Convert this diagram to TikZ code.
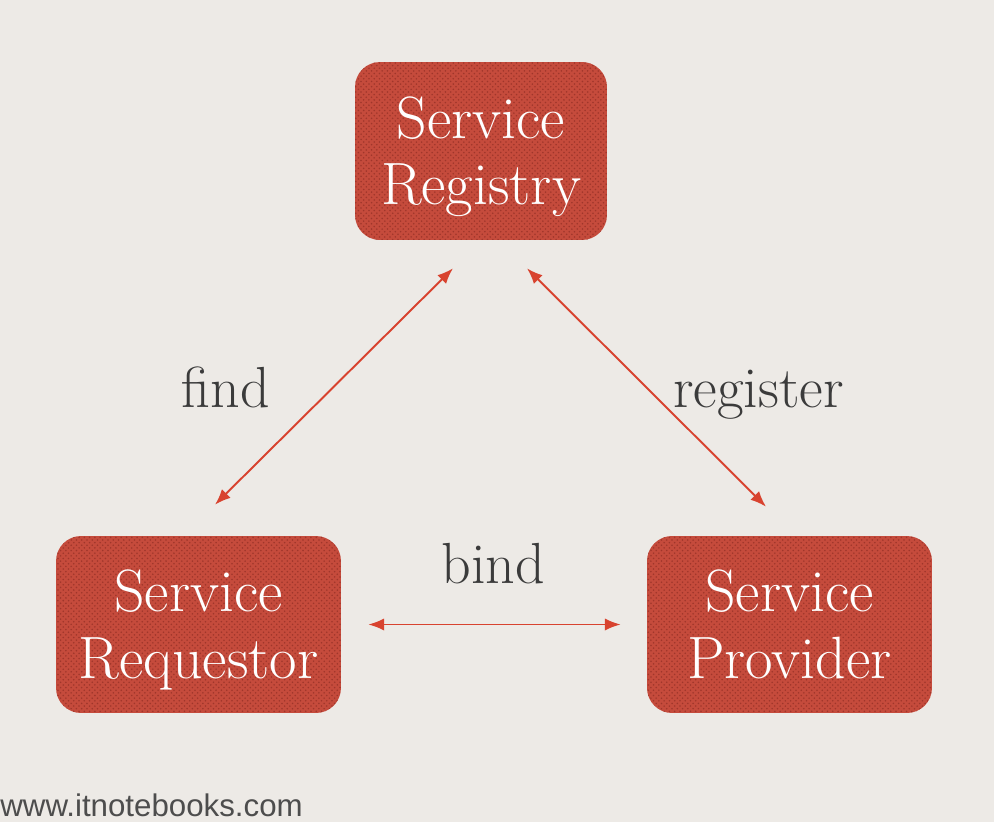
\documentclass[tikz,border=0pt]{standalone}
\usepackage{fontspec}
\newfontfamily\urlfont{Liberation Sans}
\usetikzlibrary{arrows.meta, patterns}
\definecolor{paper}{HTML}{EDEAE6}
\definecolor{boxred}{HTML}{C54B3C}
\definecolor{boxdots}{HTML}{A0362B}
\definecolor{linkred}{HTML}{D8432F}
\definecolor{labelgray}{HTML}{3B3B3B}
\definecolor{urlgray}{HTML}{4D4D4D}
% one line of box text, with a fixed strut so all boxes line up
\newcommand{\boxline}[1]{\rule[-7.4pt]{0pt}{38pt}#1}
\tikzset{
  service box/.style={
    rectangle,
    rounded corners=0.5cm,
    fill=boxred,
    postaction={pattern=crosshatch dots, pattern color=boxdots},
    text=white,
    align=center,
    inner sep=0pt,
    font=\fontsize{34}{38}\selectfont
  },
  link/.style={
    {Latex[length=9pt, width=7pt]}-{Latex[length=9pt, width=7pt]},
    line width=1.1pt,
    color=linkred
  },
  link label/.style={
    anchor=base,
    inner sep=0pt,
    text=labelgray,
    font=\fontsize{33}{38}\selectfont
  }
}

\begin{document}
\begin{tikzpicture}[x=0.02cm, y=-0.02cm]
    % background
    \fill[paper] (0,0) rectangle (994,822);
    \useasboundingbox (0,0) rectangle (994,822);

    % boxes
    \node[service box, minimum width=5.04cm, minimum height=3.56cm] (reg) at (481,151)
      {\boxline{Service}\\\boxline{Registry}};
    \node[service box, minimum width=5.7cm, minimum height=3.54cm] (req) at (198.5,624.5)
      {\boxline{Service}\\\boxline{Requestor}};
    \node[service box, minimum width=5.7cm, minimum height=3.54cm] (prov) at (789.5,624.5)
      {\boxline{Service}\\\boxline{Provider}};

    % connectors
    \draw[link] ([shift={(16.5,-31)}]req.north) -- ([shift={(-28,28)}]reg.south);
    \draw[link] ([shift={(46,28)}]reg.south) -- ([shift={(-23.5,-29)}]prov.north);
    \draw[link] ([shift={(27,0)}]req.east) -- ([shift={(-26,0)}]prov.west);

    % labels
    \node[link label] (find) at (226,407) {find};
    \node[link label] (register) at (758.5,407) {register};
    \node[link label] (bind) at (493.5,583) {bind};

    % watermark
    \node[anchor=base west, inner sep=0pt, text=urlgray, font=\urlfont\fontsize{17.8}{20}\selectfont]
      (url) at (0,816) {www.itnotebooks.com};
\end{tikzpicture}
\end{document}
